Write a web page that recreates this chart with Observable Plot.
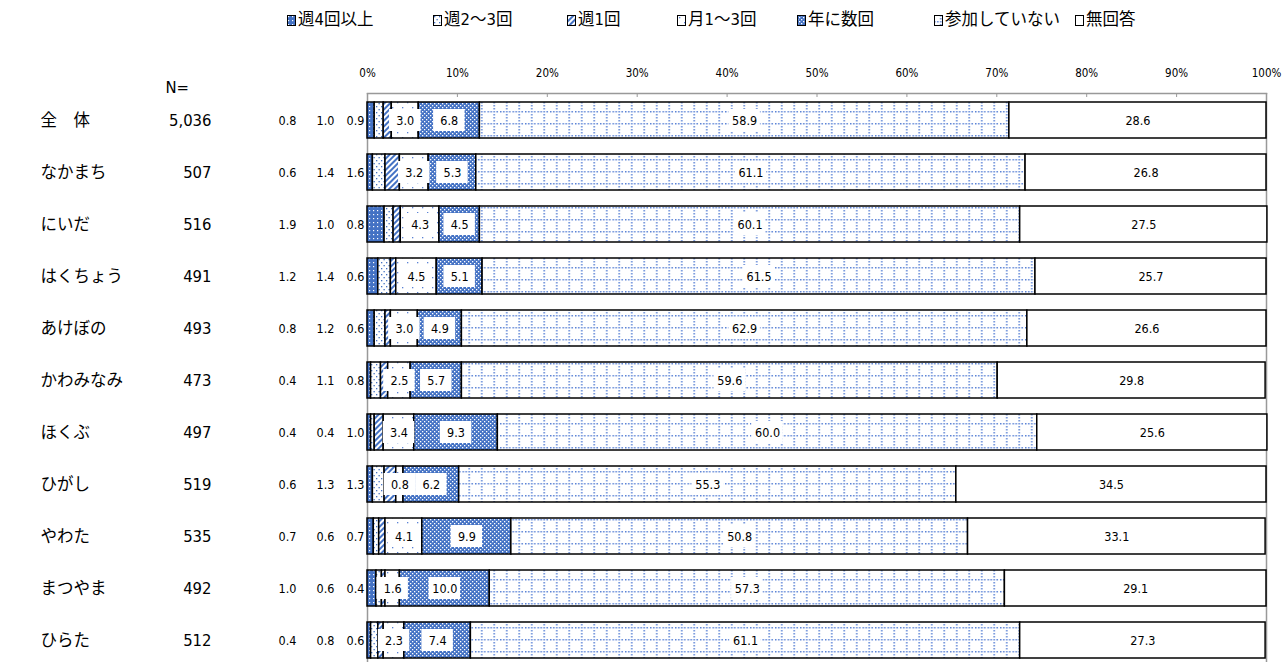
<!DOCTYPE html>
<html><head><meta charset="utf-8">
<script src="https://cdn.jsdelivr.net/npm/d3@7"></script>
<script src="https://cdn.jsdelivr.net/npm/@observablehq/plot@0.6"></script>
<style>
body{margin:0;background:#fff;font-family:"Liberation Sans Narrow","DejaVu Sans Condensed","Noto Sans CJK JP",sans-serif;overflow:hidden}
#legend{position:relative;height:45px;width:1282px}
.li{position:absolute;top:8px;font-size:16.5px;display:flex;align-items:center;color:#000;white-space:nowrap;line-height:24px}
.li svg{margin-right:1px}
</style></head><body>
<svg width="0" height="0" style="position:absolute">
<defs>
<pattern id="p1" width="4" height="4" patternUnits="userSpaceOnUse"><rect width="4" height="4" fill="#4472C4"/><rect x="1" y="1" width="1.2" height="1.2" fill="#fff"/></pattern>
<pattern id="p2" width="5" height="6" patternUnits="userSpaceOnUse"><rect width="5" height="6" fill="#fff"/><rect x="1" y="1" width="1.3" height="1.3" fill="#4472C4"/><rect x="3.5" y="4" width="1.3" height="1.3" fill="#4472C4"/></pattern>
<pattern id="p3" width="4" height="4" patternUnits="userSpaceOnUse" patternTransform="rotate(45)"><rect width="4" height="4" fill="#fff"/><rect width="2" height="4" fill="#4472C4"/></pattern>
<pattern id="p4" width="10" height="10" patternUnits="userSpaceOnUse"><rect width="10" height="10" fill="#fff"/><rect x="2" y="2" width="1.3" height="1.3" fill="#5B83D6"/><rect x="7" y="7" width="1.3" height="1.3" fill="#5B83D6"/></pattern>
<pattern id="p5" width="4" height="4" patternUnits="userSpaceOnUse"><rect width="4" height="4" fill="#4472C4"/><rect x="0" y="0" width="1.3" height="1.3" fill="#fff"/><rect x="2" y="2" width="1.3" height="1.3" fill="#fff"/></pattern>
<pattern id="p6" width="12.5" height="12" patternUnits="userSpaceOnUse"><rect width="12.5" height="12" fill="#fff"/>
<rect x="6" y="0" width="1.5" height="1.5" fill="#5B83D6"/><rect x="6" y="3" width="1.5" height="1.5" fill="#5B83D6"/><rect x="6" y="6" width="1.5" height="1.5" fill="#5B83D6"/><rect x="6" y="9" width="1.5" height="1.5" fill="#5B83D6"/>
<rect x="0" y="6" width="1.5" height="1.5" fill="#5B83D6"/><rect x="3" y="6" width="1.5" height="1.5" fill="#5B83D6"/><rect x="9" y="6" width="1.5" height="1.5" fill="#5B83D6"/>
</pattern>
<pattern id="p7" width="4" height="4" patternUnits="userSpaceOnUse"><rect width="4" height="4" fill="#fff"/></pattern>
</defs></svg>
<div id="legend"></div>
<div id="chart"></div>
<script>
const categories = ["全　体","なかまち","にいだ","はくちょう","あけぼの","かわみなみ","ほくぶ","ひがし","やわた","まつやま","ひらた"];
const nValues = [5036,507,516,491,493,473,497,519,535,492,512];
const series = ["週4回以上","週2～3回","週1回","月1～3回","年に数回","参加していない","無回答"];
const s1 = [0.8,0.6,1.9,1.2,0.8,0.4,0.4,0.6,0.7,1.0,0.4];
const s2 = [1.0,1.4,1.0,1.4,1.2,1.1,0.4,1.3,0.6,0.6,0.8];
const s3 = [0.9,1.6,0.8,0.6,0.6,0.8,1.0,1.3,0.7,0.4,0.6];
const s4 = [3.0,3.2,4.3,4.5,3.0,2.5,3.4,0.8,4.1,1.6,2.3];
const s5 = [6.8,5.3,4.5,5.1,4.9,5.7,9.3,6.2,9.9,10.0,7.4];
const s6 = [58.9,61.1,60.1,61.5,62.9,59.6,60.0,55.3,50.8,57.3,61.1];
const s7 = [28.6,26.8,27.5,25.7,26.6,29.8,25.6,34.5,33.1,29.1,27.3];
const xTicks = [0,10,20,30,40,50,60,70,80,90,100];

const seriesValues = [s1,s2,s3,s4,s5,s6,s7];
const tidy = [];
categories.forEach((cat, ci) => {
  let cum = 0;
  seriesValues.forEach((arr, si) => {
    const v = arr[ci];
    tidy.push({cat, si, series: series[si], value: v, mid: cum + v/2});
    cum += v;
  });
});
const rows = categories.map((cat, ci) => ({cat, n: nValues[ci], a: s1[ci], b: s2[ci], c: s3[ci]}));
const fmt1 = d3.format(".1f");
const FONT = '"Liberation Sans Narrow","DejaVu Sans Condensed","Noto Sans CJK JP",sans-serif';

// legend
const legendX = [287,433,567,677,797,934,1075];
const leg = document.getElementById("legend");
series.forEach((s, i) => {
  const d = document.createElement("div");
  d.className = "li";
  d.style.left = legendX[i] + "px";
  d.innerHTML = `<svg width="10" height="11"><rect x="0.5" y="0.5" width="8" height="10" fill="url(#p${i+1})" stroke="#000" stroke-width="1"/></svg><span>${s}</span>`;
  leg.appendChild(d);
});

const boxData = tidy.filter(d => d.si >= 3 && d.si <= 5);

const chart = Plot.plot({
  width: 1282, height: 622,
  marginTop: 48, marginLeft: 367, marginRight: 16, marginBottom: 0,
  style: {fontFamily: FONT, fontSize: "12px", background: "#fff", color: "#000"},
  x: {domain: [0, 100], axis: null},
  y: {domain: categories, paddingInner: 0.31, paddingOuter: 0.114, axis: null},
  color: {type: "identity"},
  marks: [
    Plot.ruleX([0, 100], {stroke: "#999", strokeWidth: 1.5}),
    Plot.frame({anchor: "top", stroke: "#999", strokeWidth: 1.5}),
    Plot.axisX({anchor: "top", ticks: xTicks, tickFormat: d => d + "%", tickSize: -3, tickPadding: 20, stroke: "#999", fontSize: 11.5}),
    Plot.barX(tidy, Plot.stackX({x: "value", y: "cat", fill: d => `url(#p${d.si+1})`, stroke: "#000", strokeWidth: 1.5})),
    Plot.barX(boxData, {x1: d => d.mid - 1.75, x2: d => d.mid + 1.75, y: "cat", fill: "#fff", insetTop: 7, insetBottom: 7}),
    Plot.text(tidy, {x: "mid", y: "cat", text: d => d.si >= 3 ? fmt1(d.value) : "", fontSize: 12.5}),
    Plot.text(rows, {y: "cat", text: d => fmt1(d.a), frameAnchor: "left", dx: -89, fontSize: 12.5}),
    Plot.text(rows, {y: "cat", text: d => fmt1(d.b), frameAnchor: "left", dx: -51, fontSize: 12.5}),
    Plot.text(rows, {y: "cat", text: d => fmt1(d.c), frameAnchor: "left", dx: -21, fontSize: 12.5}),
    Plot.text(rows, {y: "cat", text: "cat", frameAnchor: "left", dx: -327, textAnchor: "start", fontSize: 16.5}),
    Plot.text(rows, {y: "cat", text: d => d3.format(",")(d.n), frameAnchor: "left", dx: -156, textAnchor: "end", fontSize: 16.5}),
    Plot.text(["N="], {frameAnchor: "top-left", dx: -202, dy: -12, textAnchor: "start", fontSize: 16.5})
  ]
});
document.getElementById("chart").appendChild(chart);
</script></body></html>
